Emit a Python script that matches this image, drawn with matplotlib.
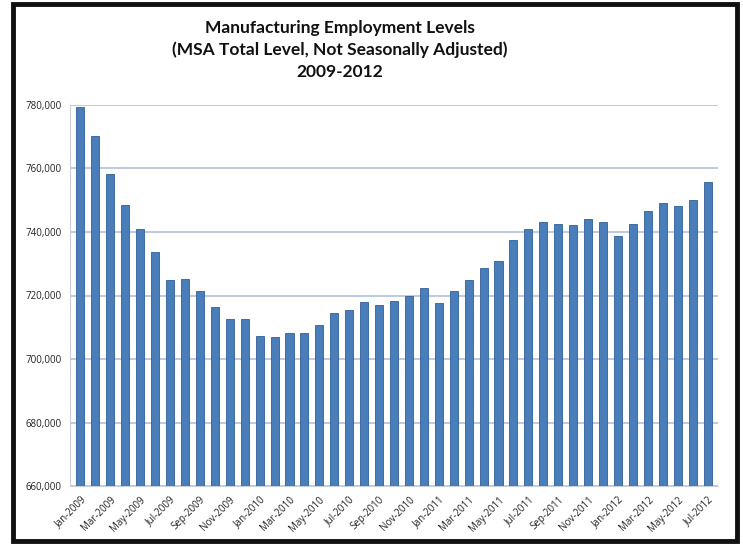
import matplotlib.pyplot as plt
from matplotlib.patches import Rectangle
from matplotlib.ticker import FuncFormatter

# ---- data ----
months = ["Jan-2009", "Feb-2009", "Mar-2009", "Apr-2009", "May-2009", "Jun-2009",
          "Jul-2009", "Aug-2009", "Sep-2009", "Oct-2009", "Nov-2009", "Dec-2009",
          "Jan-2010", "Feb-2010", "Mar-2010", "Apr-2010", "May-2010", "Jun-2010",
          "Jul-2010", "Aug-2010", "Sep-2010", "Oct-2010", "Nov-2010", "Dec-2010",
          "Jan-2011", "Feb-2011", "Mar-2011", "Apr-2011", "May-2011", "Jun-2011",
          "Jul-2011", "Aug-2011", "Sep-2011", "Oct-2011", "Nov-2011", "Dec-2011",
          "Jan-2012", "Feb-2012", "Mar-2012", "Apr-2012", "May-2012", "Jun-2012",
          "Jul-2012"]
employment = [779500, 770300, 758300, 748500, 741000, 733800,
              725000, 725300, 721500, 716300, 712600, 712500,
              707400, 707000, 708200, 708300, 710600, 714400,
              715300, 718000, 717000, 718300, 719700, 722300,
              717500, 721400, 724800, 728600, 730800, 737400,
              741100, 743300, 742400, 742100, 744100, 743300,
              738700, 742500, 746600, 749100, 748300, 750200,
              755700]
y_ticks = [660000, 680000, 700000, 720000, 740000, 760000, 780000]

title = ("Manufacturing Employment Levels\n"
         "(MSA Total Level, Not Seasonally Adjusted)\n"
         "2009-2012")

plt.rcParams['font.family'] = ['Open Sans', 'DejaVu Sans']

fig = plt.figure(figsize=(7.43, 5.44), dpi=100)

# black frame round the whole chart
fig.patches.append(Rectangle((13 / 743, 3 / 544), 724 / 743, 537 / 544,
                             transform=fig.transFigure, fill=False,
                             edgecolor='#111111', linewidth=3.5))

ax = fig.add_axes([70 / 743, 1 - 486 / 544, 648 / 743, 381 / 544])

x = list(range(len(months)))
ax.bar(x, employment, width=0.54, color='#4a7ebb', edgecolor='#2f5f98',
       linewidth=0.6, zorder=3)

ax.set_ylim(660000, 780000)
ax.set_xlim(-0.7, len(months) - 0.3)
ax.set_yticks(y_ticks)
ax.yaxis.set_major_formatter(FuncFormatter(lambda v, p: f"{int(v):,}"))
ax.grid(axis='y', color='#a7bcd8', linewidth=1.1, zorder=0)

ax.set_xticks(x[::2])
ax.set_xticklabels(months[::2], rotation=45, ha='right', rotation_mode='anchor')
ax.tick_params(axis='both', length=0, labelsize=7, colors='#222222')
ax.tick_params(axis='x', pad=6)
ax.tick_params(axis='y', pad=6)

for side in ['top', 'right']:
    ax.spines[side].set_visible(False)
ax.spines['left'].set_color('#c8cfd8')
ax.spines['bottom'].set_color('#c8cfd8')

fig.text(340 / 743, 1 - 50 / 544, title, ha='center', va='center', fontsize=12.5,
         fontweight='bold', linespacing=1.42, color='#111111',
         family=['Lato', 'DejaVu Sans'])

plt.savefig("out.png", dpi=100)
